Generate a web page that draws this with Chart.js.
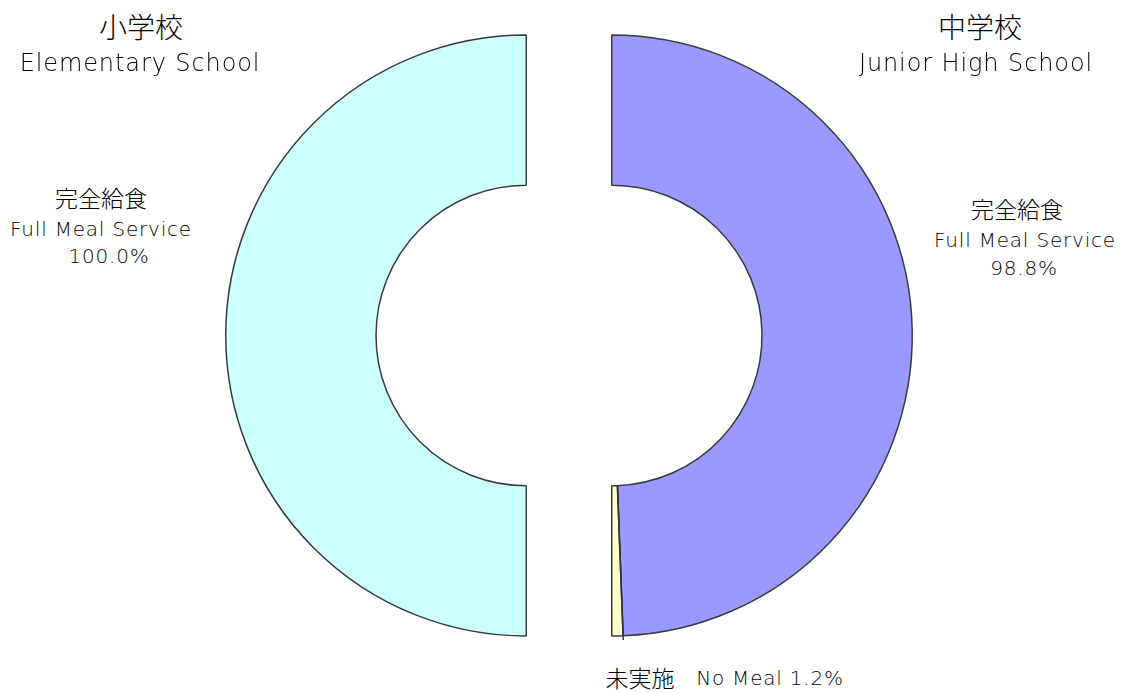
<!DOCTYPE html>
<html>
<head>
<meta charset="utf-8">
<script src="https://cdn.jsdelivr.net/npm/chart.js@4.4.0/dist/chart.umd.min.js"></script>
<style>
  body { margin: 0; background: #fff; width: 1128px; height: 693px; overflow: hidden; position: relative;
         font-family: "DejaVu Sans", "Noto Sans CJK JP", sans-serif; color: #000; }
  .wrap { position: absolute; width: 306px; height: 609px; top: 31px; }
  .txt { position: absolute; text-align: center; white-space: nowrap; line-height: 1; transform: translate(-50%, -50%); font-weight: 300; }
  .jt { font-family: "Noto Sans CJK JP", sans-serif; font-size: 28px; font-weight: 300; }
  .et { font-size: 24px; letter-spacing: 0.9px; }
  .jl { font-family: "Noto Sans CJK JP", sans-serif; font-size: 23px; font-weight: 300; }
  .el { font-size: 20px; letter-spacing: 0.8px; }
</style>
</head>
<body>
<div class="wrap" style="left:223px"><canvas id="elem"></canvas></div>
<div class="wrap" style="left:609px"><canvas id="junior"></canvas></div>

<div class="txt jt" id="t1a" style="left:141px;top:26px"></div>
<div class="txt et" id="t1b" style="left:140px;top:63px"></div>
<div class="txt jt" id="t2a" style="left:980px;top:26px"></div>
<div class="txt et" id="t2b" style="left:976px;top:63px"></div>

<div class="txt jl" id="l1a" style="left:101px;top:197px"></div>
<div class="txt el" id="l1b" style="left:101px;top:229px"></div>
<div class="txt el" id="l1c" style="left:109px;top:256px"></div>
<div class="txt jl" id="r1a" style="left:1017px;top:208px"></div>
<div class="txt el" id="r1b" style="left:1025px;top:240px"></div>
<div class="txt el" id="r1c" style="left:1024px;top:268px"></div>
<div class="txt jl" id="r2a" style="left:640px;top:677px"></div>
<div class="txt el" id="r2b" style="left:770px;top:678px"></div>

<script>
// 給食実施状況 (%)
var schools = ["小学校", "中学校"];
var schoolsEn = ["Elementary School", "Junior High School"];
var categories = ["完全給食", "未実施"];
var categoriesEn = ["Full Meal Service", "No Meal"];
var elementary = [100.0];
var juniorHigh = [98.8, 1.2];
var colors = ["#ccffff", "#9999ff", "#ffffcc"];

function setText(id, s) { document.getElementById(id).textContent = s; }
setText("t1a", schools[0]);
setText("t1b", schoolsEn[0]);
setText("t2a", schools[1]);
setText("t2b", schoolsEn[1]);
setText("l1a", categories[0]);
setText("l1b", categoriesEn[0]);
setText("l1c", elementary[0].toFixed(1) + "%");
setText("r1a", categories[0]);
setText("r1b", categoriesEn[0]);
setText("r1c", juniorHigh[0].toFixed(1) + "%");
setText("r2a", categories[1]);
setText("r2b", categoriesEn[1] + " " + juniorHigh[1].toFixed(1) + "%");

// leader line along the boundary of the small slice
const leader = {
  id: "leader",
  afterDatasetsDraw(chart) {
    if (chart.canvas.id !== "junior") return;
    const arc = chart.getDatasetMeta(0).data[0];
    const a = arc.endAngle;
    const ctx = chart.ctx;
    ctx.save();
    ctx.strokeStyle = "#333";
    ctx.lineWidth = 1.5;
    ctx.beginPath();
    ctx.moveTo(arc.x + Math.cos(a) * arc.innerRadius, arc.y + Math.sin(a) * arc.innerRadius);
    ctx.lineTo(arc.x + Math.cos(a) * (arc.outerRadius + 11), arc.y + Math.sin(a) * (arc.outerRadius + 11));
    ctx.stroke();
    ctx.restore();
  }
};

function halfDonut(id, values, bg, rotation) {
  new Chart(document.getElementById(id), {
    type: "doughnut",
    data: {
      labels: categories.slice(0, values.length),
      datasets: [{
        data: values,
        backgroundColor: bg,
        borderColor: "#3a3a3a",
        borderWidth: 1.5
      }]
    },
    options: {
      responsive: true,
      maintainAspectRatio: false,
      animation: false,
      rotation: rotation,
      circumference: 180,
      cutout: "50%",
      layout: { padding: 2 },
      plugins: { legend: { display: false }, tooltip: { enabled: false } }
    },
    plugins: [leader]
  });
}

halfDonut("elem", elementary, [colors[0]], 180);
halfDonut("junior", juniorHigh, [colors[1], colors[2]], 0);
</script>
</body>
</html>
